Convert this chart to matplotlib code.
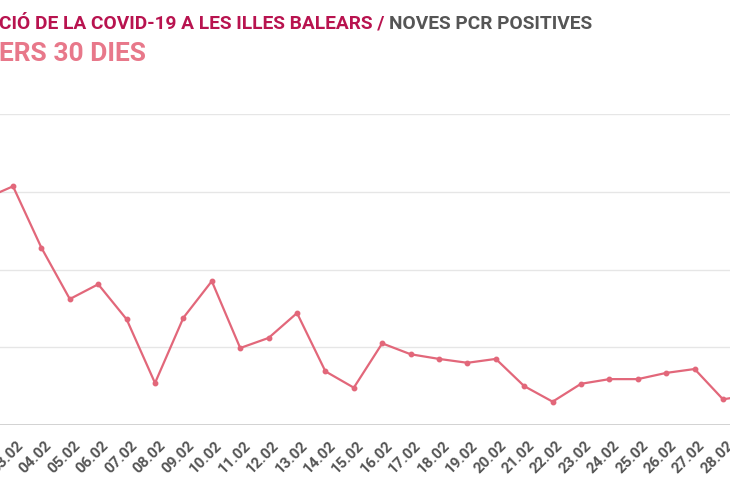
import matplotlib
matplotlib.use("Agg")
import matplotlib.pyplot as plt
from matplotlib.transforms import ScaledTranslation

# daily new positive PCR, 02.02 -> 01.03
dates = ["02.02", "03.02", "04.02", "05.02", "06.02", "07.02", "08.02", "09.02",
         "10.02", "11.02", "12.02", "13.02", "14.02", "15.02", "16.02", "17.02",
         "18.02", "19.02", "20.02", "21.02", "22.02", "23.02", "24.02", "25.02",
         "26.02", "27.02", "28.02", "01.03"]
positives = [291, 307, 228, 162, 181, 136, 54, 138, 185, 99, 112, 144, 69, 48,
             105, 91, 85, 80, 85, 50, 30, 53, 59, 59, 67, 72, 33, 39]
grid_values = [0, 100, 200, 300, 400]

title_main = "CIÓ DE LA COVID-19 A LES ILLES BALEARS / "
title_rest = "NOVES PCR POSITIVES"
subtitle = "ERS 30 DIES"

plt.rcParams["font.family"] = ["Roboto", "DejaVu Sans"]

line_color = "#e2677a"
label_color = "#555555"

fig = plt.figure(figsize=(7.3, 5), dpi=100)
ax = fig.add_axes([0, 0.15, 1, 0.622])

x = list(range(len(dates)))
ax.plot(x, positives, color=line_color, lw=1.6, marker="o", ms=3.2,
        mec=line_color, mfc=line_color, zorder=3)

ax.set_yticks(grid_values)
ax.set_yticklabels([])
ax.tick_params(axis="y", length=0)
ax.grid(axis="y", color="#e6e6e6", lw=1)
ax.axhline(0, color="#cccccc", lw=1.2, zorder=2)
for s in ax.spines.values():
    s.set_visible(False)

ax.set_xticks(x)
ax.set_xticklabels(dates)
ax.tick_params(axis="x", length=0, pad=13, labelsize=11, labelcolor=label_color)
shift = ScaledTranslation(6 / 72, 0, fig.dpi_scale_trans)
for lab in ax.get_xticklabels():
    lab.set_rotation(45)
    lab.set_ha("right")
    lab.set_va("center")
    lab.set_rotation_mode("anchor")
    lab.set_fontweight("bold")
    lab.set_transform(lab.get_transform() + shift)

# limits after the ticks, so the chart stays cropped like the reference
ax.set_xlim(0.542, 26.246)
ax.set_ylim(0, 400)

# title pieces
t1 = fig.text(-0.002, 1 - 29 / 500, title_main, color="#b8134f", fontsize=13.8,
              fontweight="bold", va="baseline", ha="left")
fig.canvas.draw()
bb = t1.get_window_extent()
fig.text(bb.x1 / fig.bbox.width, 1 - 29 / 500, title_rest, color="#555555",
         fontsize=13.8, fontweight="bold", va="baseline", ha="left")
fig.text(-0.002, 1 - 61 / 500, subtitle, color="#e8788a", fontsize=19,
         fontweight="bold", va="baseline", ha="left")

fig.savefig("out.png", dpi=100)
